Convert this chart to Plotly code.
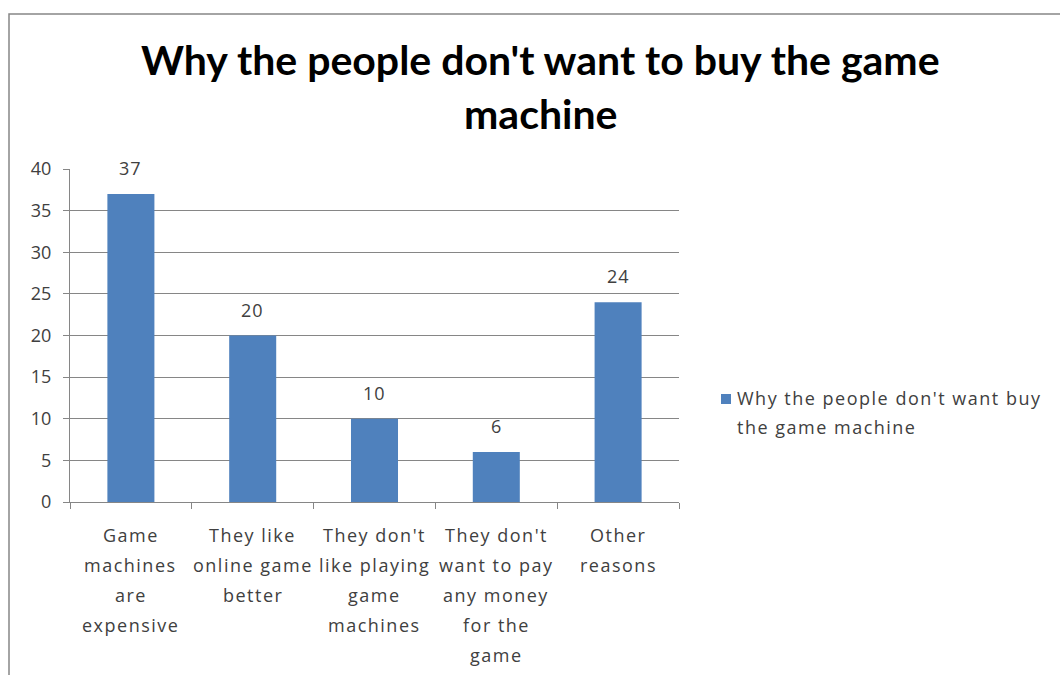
import plotly.graph_objects as go

# Survey data
categories = [
    "Game machines are expensive",
    "They like online game better",
    "They don't like playing game machines",
    "They don't want to pay any money for the game",
    "Other reasons",
]
label_lines = [
    ["Game", "machines", "are", "expensive"],
    ["They like", "online game", "better"],
    ["They don't", "like playing", "game", "machines"],
    ["They don't", "want to pay", "any money", "for the", "game"],
    ["Other", "reasons"],
]
counts = [37, 20, 10, 6, 24]
series_name = "Why the people don't want buy the game machine"
legend_lines = ["Why the people don't want buy", "the game machine"]
title_lines = ["Why the people don't want to buy the game", "machine"]
y_ticks = [0, 5, 10, 15, 20, 25, 30, 35, 40]

BAR = "#4F81BD"
GRID = "#868686"
TXT = "#404040"
FONT = "Open Sans"
TITLE_FONT = "Lato"


def spaced(s, px=1.5):
    """Wrap text in a span with extra letter spacing."""
    return '<span style="letter-spacing:%spx">%s</span>' % (px, s)


W, H = 1060, 675
L, R, T, B = 70, 381, 169, 173
plot_h = H - T - B
plot_w = W - L - R


def px_x(px):
    return (px - L) / plot_w


def px_y(py):
    return (H - B - py) / plot_h


fig = go.Figure()
fig.add_trace(go.Bar(
    x=categories, y=counts, name=series_name,
    marker=dict(color=BAR, line=dict(width=0)),
    showlegend=False,
))

annotations = []
# value labels above bars
for c, v in zip(categories, counts):
    annotations.append(dict(
        x=c, y=v, xref="x", yref="y", text=spaced(str(v), 1), showarrow=False,
        xanchor="center", yanchor="middle", yshift=26,
        font=dict(family=FONT, size=18, color=TXT),
    ))
# wrapped category labels, one line at a time for Excel-like spacing
for c, lines in zip(categories, label_lines):
    for i, line in enumerate(lines):
        annotations.append(dict(
            x=c, y=0, xref="x", yref="paper", text=spaced(line), showarrow=False,
            xanchor="center", yanchor="middle", yshift=-(33 + 30 * i),
            font=dict(family=FONT, size=18, color=TXT),
        ))
# title
for i, line in enumerate(title_lines):
    annotations.append(dict(
        x=px_x(540), y=px_y(60 + 53 * i),
        xref="paper", yref="paper", text="<b>" + line + "</b>", showarrow=False,
        xanchor="center", yanchor="middle",
        font=dict(family=TITLE_FONT, size=41, color="#000000"),
    ))
# legend
for i, line in enumerate(legend_lines):
    annotations.append(dict(
        x=px_x(735), y=px_y(398 + 29 * i),
        xref="paper", yref="paper", text=spaced(line), showarrow=False,
        xanchor="left", yanchor="middle",
        font=dict(family=FONT, size=18, color=TXT),
    ))

shapes = [
    # chart border
    dict(type="rect", xref="paper", yref="paper",
         x0=px_x(9), x1=px_x(W + 10), y0=px_y(H + 10), y1=px_y(14),
         line=dict(color=GRID, width=1.5), layer="below"),
    # legend key
    dict(type="rect", xref="paper", yref="paper",
         x0=px_x(721), x1=px_x(731), y0=px_y(404), y1=px_y(394),
         line=dict(width=0), fillcolor=BAR),
]

fig.update_layout(
    width=W, height=H,
    margin=dict(l=L, r=R, t=T, b=B),
    paper_bgcolor="white", plot_bgcolor="white",
    bargap=0.614,
    font=dict(family=FONT, size=18, color=TXT),
    annotations=annotations, shapes=shapes,
)
fig.update_xaxes(
    showticklabels=False, showline=True, linecolor=GRID, linewidth=1,
    ticks="outside", tickson="boundaries", ticklen=6, tickcolor=GRID,
    showgrid=False,
)
fig.update_yaxes(
    range=[0, 40], tickvals=y_ticks, showline=True, linecolor=GRID, linewidth=1,
    ticks="outside", ticklen=6, tickcolor=GRID, gridcolor=GRID, gridwidth=1,
    tickfont=dict(family=FONT, size=18, color=TXT), zeroline=False,
    ticklabelstandoff=8,
)

fig.write_html("out.html")
